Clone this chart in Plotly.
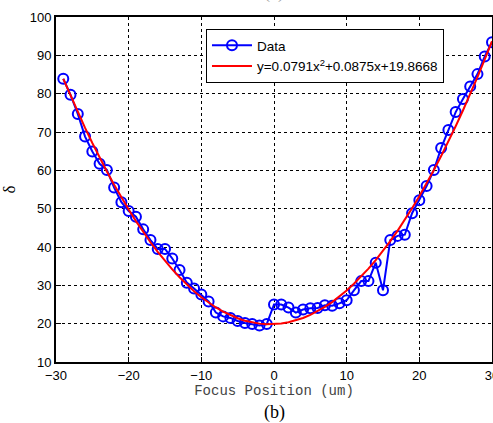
import plotly.graph_objects as go

# ----------------------------- data -----------------------------

focus = list(range(-29, 31))

delta = [83.9, 79.7, 74.7, 68.8, 64.9, 61.7, 60.1, 55.5, 51.7, 49.4,
         47.9, 44.6, 41.8, 39.5, 39.5, 37.0, 34.0, 30.7, 29.2, 27.6,
         25.8, 22.9, 21.9, 21.5, 20.7, 20.2, 19.9, 19.5, 19.9, 25.0,
         25.0, 24.2, 22.9, 23.7, 24.0, 24.1, 24.8, 24.7, 25.3, 26.1,
         28.7, 31.1, 31.1, 35.9, 28.7, 41.8, 42.9, 43.2, 48.8, 52.2,
         55.9, 60.1, 65.8, 70.5, 75.2, 78.6, 81.9, 85.1, 89.7, 93.4]

fit = [83.85, 79.43, 75.17, 71.06, 67.12, 63.33, 59.70, 56.23, 52.91, 49.76,
       46.76, 43.92, 41.24, 38.72, 36.35, 34.14, 32.10, 30.21, 28.47, 26.90,
       25.49, 24.23, 23.13, 22.19, 21.41, 20.78, 20.32, 20.01, 19.86, 19.87,
       20.03, 20.36, 20.84, 21.48, 22.28, 23.24, 24.36, 25.63, 27.06, 28.65,
       30.40, 32.31, 34.37, 36.59, 38.98, 41.52, 44.22, 47.07, 50.09, 53.26,
       56.59, 60.07, 63.72, 67.53, 71.50, 75.61, 79.89, 84.33, 88.93, 93.68]

fit_label = "y=0.0791x<sup>2</sup>+0.0875x+19.8668"

# ----------------------------- plot -----------------------------

fig = go.Figure()

fig.add_trace(go.Scatter(x=focus, y=delta, mode="lines+markers", name="Data",
                         line=dict(color="#0000ff", width=2),
                         marker=dict(symbol="circle-open", size=10, color="#0000ff",
                                     line=dict(width=2, color="#0000ff"))))

fig.add_trace(go.Scatter(x=focus, y=fit, mode="lines", name=fit_label,
                         line=dict(color="#ff0000", width=2)))

axis_style = dict(showline=True, linecolor="black", linewidth=2, mirror=True,
                  ticks="inside", ticklen=5, tickcolor="black",
                  showgrid=True, gridcolor="black", gridwidth=1, griddash="dot",
                  zeroline=False, automargin=False, ticklabeloverflow="allow",
                  tickfont=dict(family="Liberation Sans, Arial", size=13, color="black"))

fig.update_xaxes(range=[-30, 30], dtick=10, **axis_style,
                 title=dict(text="Focus Position (um)", standoff=3,
                            font=dict(family="Courier New, Liberation Mono, monospace", size=14, color="#444444")))
fig.update_yaxes(range=[10, 100], dtick=10, **axis_style,
                 title=dict(text="δ", standoff=14,
                            font=dict(family="Liberation Serif, serif", size=17, color="black")))

fig.add_annotation(text="(b)", x=0.5, y=-0.145, xref="paper", yref="paper",
                   xanchor="center", yanchor="middle", showarrow=False,
                   font=dict(family="Liberation Serif, serif", size=18, color="black"))
fig.add_annotation(text="(a)", x=0.5, y=1.035, xref="paper", yref="paper",
                   xanchor="center", yanchor="bottom", showarrow=False,
                   font=dict(family="Liberation Serif, serif", size=18, color="#999999"))

fig.update_layout(width=493, height=423,
                  margin=dict(l=56, r=1, t=17, b=61),
                  paper_bgcolor="white", plot_bgcolor="white",
                  showlegend=True,
                  legend=dict(x=0.344, y=0.965, xanchor="left", yanchor="top",
                              bgcolor="white", bordercolor="black", borderwidth=1,
                              font=dict(family="Liberation Sans, Arial", size=13.5, color="black"),
                              tracegroupgap=0, itemwidth=40))

# the page's default body margin shifts the figure by 8px, drop it
fig.write_html("out.html", config={"displayModeBar": False},
               post_script="document.body.style.margin='0';")
